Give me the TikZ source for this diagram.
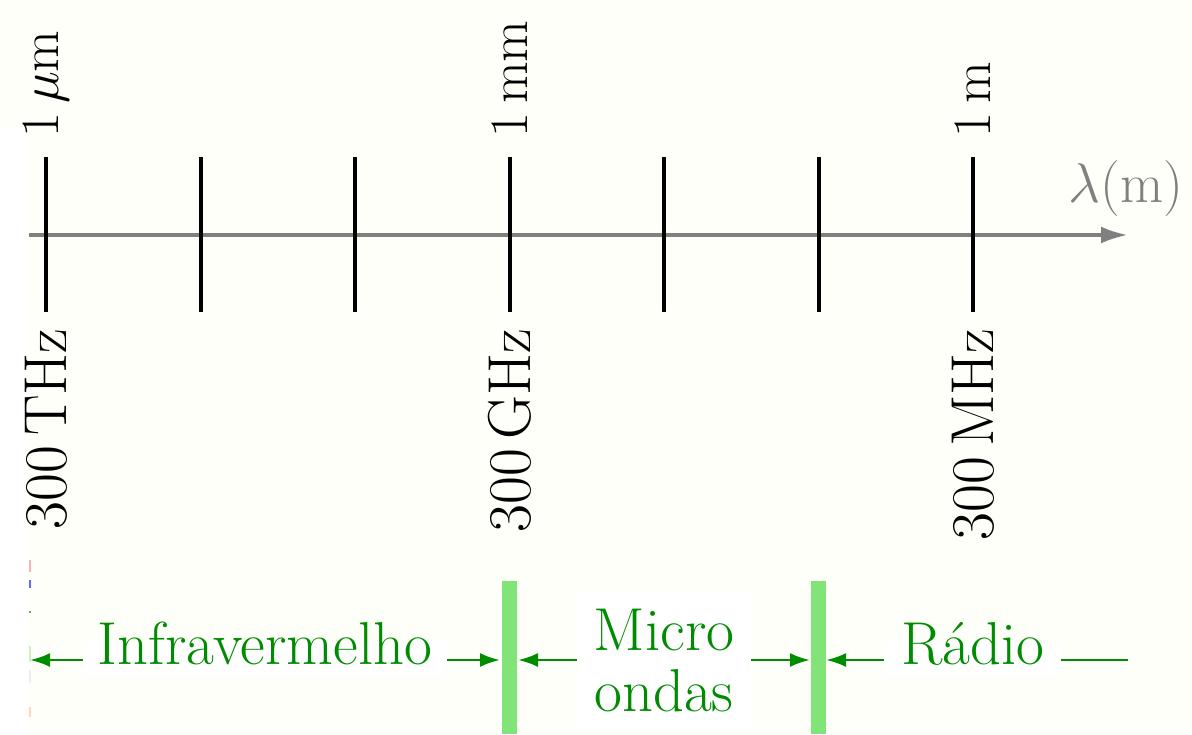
\RequirePackage{fix-cm}
\documentclass[tikz,border=0pt]{standalone}
\usepackage{fontspec}
\usetikzlibrary{arrows.meta}
\definecolor{paper}{RGB}{253,255,248}
\definecolor{axisgray}{RGB}{128,128,128}
\definecolor{bandgreen}{RGB}{0,140,0}
\definecolor{barlight}{RGB}{128,228,120}
\tikzset{
  bandtip/.tip={Latex[length=10pt,width=7pt]},
  lbl/.style={font=\fontsize{30.3}{30.5}\selectfont, inner sep=0pt},
  toplbl/.style={lbl, font=\fontsize{27}{30}\selectfont, rotate=90, anchor=west},
  botlbl/.style={lbl, rotate=90, anchor=east},
  ticmark/.style={draw=black, line width=2pt},
  axisline/.style={draw=axisgray, line width=2pt, -{Latex[length=13.5pt,width=8.5pt]}},
  bandbar/.style={fill=barlight, draw=none, inner sep=0pt, minimum width=7.5pt, minimum height=76.5pt},
  bandarrow/.style={draw=bandgreen, line width=1.3pt},
  bandlbl/.style={lbl, text=bandgreen, fill=white, inner xsep=7.5pt, inner ysep=3.1pt,
                  text height=0.82em, text depth=0.18em},
}
\begin{document}
\begin{tikzpicture}[x=0.5pt, y=-0.5pt]
  \useasboundingbox (0,0) rectangle (1192,734);
  % paper and the clipped left margin
  \fill[paper] (0,0) rectangle (1192,734);
  \fill[white] (0,130) rectangle (29,734);
  % slivers of neighbouring bands at the clipped edge
  \fill[red!30!white]      (29,560) rectangle (31,572);
  \fill[blue!60!white]     (29,580) rectangle (31,588);
  \fill[green!50!black!60] (29,611) rectangle (31,613);
  \fill[yellow!30!green!25](29,646) rectangle (31,662);
  \fill[black!7]           (29,670) rectangle (31,683);
  \fill[orange!30]         (29,707) rectangle (31,717);

  % wavelength axis
  \coordinate (axL) at (29,235);
  \coordinate (axR) at (1128,235);
  \draw[axisline] (axL) -- (axR);
  \node[lbl, font=\fontsize{28}{30}\selectfont, text=axisgray, anchor=base east]
       (lam) at (1184,202) {$\lambda(\mathrm{m})$};

  % decade ticks
  \foreach \i in {0,...,6} {
    \coordinate (tt\i) at ({46+154.5*\i},157);
    \coordinate (tb\i) at ({46+154.5*\i},312);
    \draw[ticmark] (tt\i) -- (tb\i);
  }

  % wavelength labels
  \node[toplbl] (wl0) at (46,138)  {1\,$\mu$m};
  \node[toplbl] (wl3) at (510,138) {1\,mm};
  \node[toplbl] (wl6) at (973,138) {1\,m};

  % frequency labels
  \node[botlbl] (fq0) at (46,328)  {300\,THz};
  \node[botlbl] (fq3) at (510,328) {300\,GHz};
  \node[botlbl] (fq6) at (973,328) {300\,MHz};

  % band boundaries
  \node[bandbar] (bar1) at (509.5,657.5) {};
  \node[bandbar] (bar2) at (818.5,657.5) {};

  % band ranges
  \coordinate (iL) at (30,660);
  \coordinate (iR) at (500,660);
  \coordinate (mL) at (518,660);
  \coordinate (mR) at (810,660);
  \coordinate (rL) at (826,660);
  \coordinate (rR) at (1128,660);
  \draw[bandarrow, bandtip-bandtip] (iL) -- (iR);
  \draw[bandarrow, bandtip-bandtip] (mL) -- (mR);
  \draw[bandarrow, bandtip-] (rL) -- (rR);

  \node[bandlbl] (infra) at (265,658.5) {Infravermelho};
  \node[lbl, text=bandgreen, fill=white, inner xsep=8.2pt, inner ysep=8.15pt, align=center]
       (micro) at (664,660.5) {Micro\\ondas};
  \node[bandlbl, inner xsep=8.75pt] (radio) at (972.5,658.5) {Rádio};
\end{tikzpicture}
\end{document}
